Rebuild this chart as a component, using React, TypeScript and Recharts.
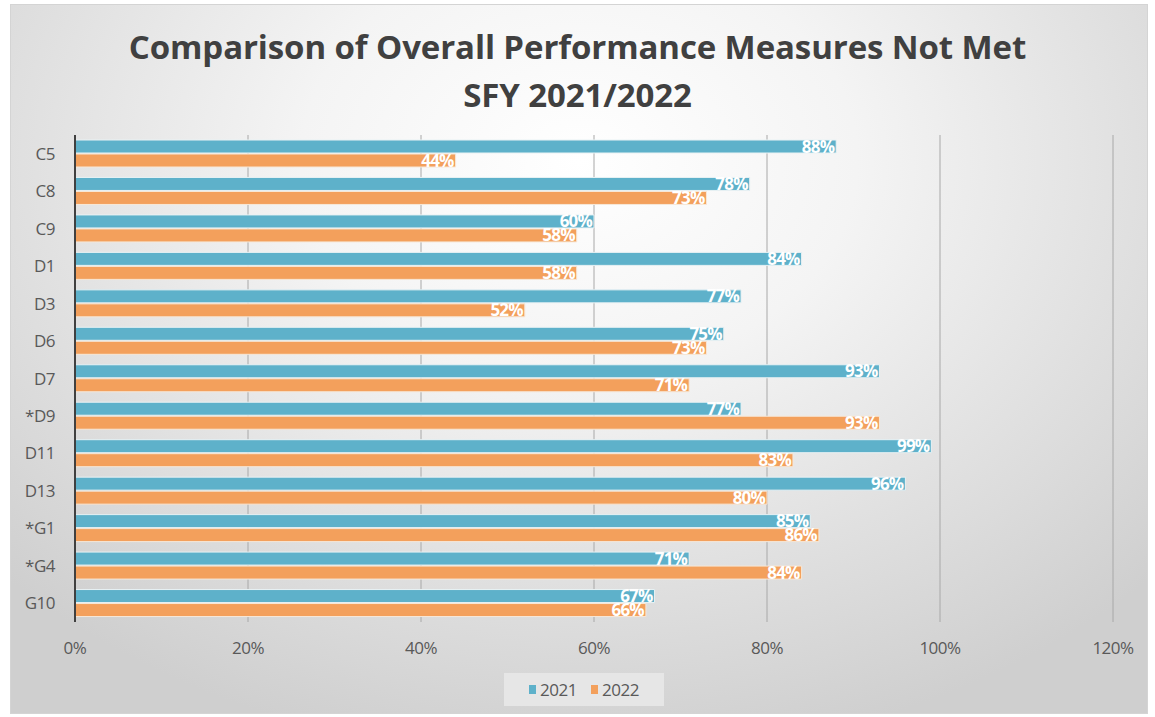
import { Bar, BarChart, CartesianGrid, LabelList, XAxis, YAxis } from "recharts";

const categories = ["C5", "C8", "C9", "D1", "D3", "D6", "D7", "*D9", "D11", "D13", "*G1", "*G4", "G10"];
const values2021 = [0.88, 0.78, 0.6, 0.84, 0.77, 0.75, 0.93, 0.77, 0.99, 0.96, 0.85, 0.71, 0.67];
const values2022 = [0.44, 0.73, 0.58, 0.58, 0.52, 0.73, 0.71, 0.93, 0.83, 0.8, 0.86, 0.84, 0.66];
const xTicks = [0, 0.2, 0.4, 0.6, 0.8, 1, 1.2];

const BLUE = "#5eb1ca";
const ORANGE = "#f3a05c";
const FONT = "'Open Sans', sans-serif";

const data = categories.map((name, i) => ({
  name,
  y2021: values2021[i],
  y2022: values2022[i],
}));

const pct = (v: number) => `${Math.round(v * 100)}%`;

const labelStyle = {
  fill: "#fff",
  fontWeight: 700,
  fontSize: 17,
  fontFamily: FONT,
  letterSpacing: -0.8,
};

export default function App() {
  return (
    <div style={{ position: "absolute", left: 0, top: 0, width: 1155, height: 717, background: "#fff" }}>
      <div
        style={{
          position: "absolute",
          left: 10,
          top: 4,
          width: 1136,
          height: 708,
          border: "1px solid #d4d4d4",
          background:
            "radial-gradient(ellipse 70% 85% at 50% 22%, #ffffff 0%, #f4f4f4 35%, #e0e0e0 70%, #cfcfcf 100%)",
        }}
      />
      <div
        style={{
          position: "absolute",
          left: 0,
          top: 23,
          width: 1155,
          textAlign: "center",
          fontFamily: FONT,
          fontWeight: 700,
          fontSize: 33,
          letterSpacing: -0.1,
          lineHeight: "48px",
          color: "#404040",
        }}
      >
        <div>Comparison of Overall Performance Measures Not Met</div>
        <div>SFY 2021/2022</div>
      </div>
      <div style={{ position: "absolute", left: 0, top: 0 }}>
        <BarChart
          width={1155}
          height={717}
          data={data}
          layout="vertical"
          margin={{ top: 135, right: 42, bottom: 65, left: 0 }}
          barCategoryGap={5}
          barGap={1}
        >
          <CartesianGrid horizontal={false} stroke="#a8a8a8" strokeWidth={1} />
          <XAxis
            type="number"
            domain={[0, 1.2]}
            ticks={xTicks}
            tickFormatter={pct}
            axisLine={false}
            tickLine={false}
            tickSize={0}
            tickMargin={20}
            height={30}
            tick={{ fill: "#595959", fontSize: 17, fontFamily: FONT, letterSpacing: -0.5 }}
          />
          <YAxis
            type="category"
            dataKey="name"
            width={75}
            axisLine={{ stroke: "#404040", strokeWidth: 2 }}
            tickLine={false}
            tickSize={0}
            tickMargin={20}
            tick={{ fill: "#595959", fontSize: 17, fontFamily: FONT, letterSpacing: -0.5 }}
          />
          <Bar dataKey="y2021" fill={BLUE} stroke="#e9f2f4" strokeWidth={1} isAnimationActive={false}>
            <LabelList
              dataKey="y2021"
              position="insideRight"
              offset={2}
              formatter={(v: any) => pct(Number(v))}
              style={labelStyle}
            />
          </Bar>
          <Bar dataKey="y2022" fill={ORANGE} stroke="#f7e8d8" strokeWidth={1} isAnimationActive={false}>
            <LabelList
              dataKey="y2022"
              position="insideRight"
              offset={2}
              formatter={(v: any) => pct(Number(v))}
              style={labelStyle}
            />
          </Bar>
        </BarChart>
      </div>
      <div
        style={{
          position: "absolute",
          left: 504,
          top: 673,
          width: 160,
          height: 33,
          background: "#e6e6e6",
          display: "flex",
          alignItems: "center",
          justifyContent: "center",
          gap: 14,
          fontFamily: FONT,
          fontSize: 17,
          letterSpacing: -0.5,
          color: "#595959",
        }}
      >
        <span style={{ display: "flex", alignItems: "center", gap: 4 }}>
          <span style={{ width: 7, height: 9, background: BLUE, display: "inline-block" }} />
          2021
        </span>
        <span style={{ display: "flex", alignItems: "center", gap: 4 }}>
          <span style={{ width: 7, height: 9, background: ORANGE, display: "inline-block" }} />
          2022
        </span>
      </div>
    </div>
  );
}
